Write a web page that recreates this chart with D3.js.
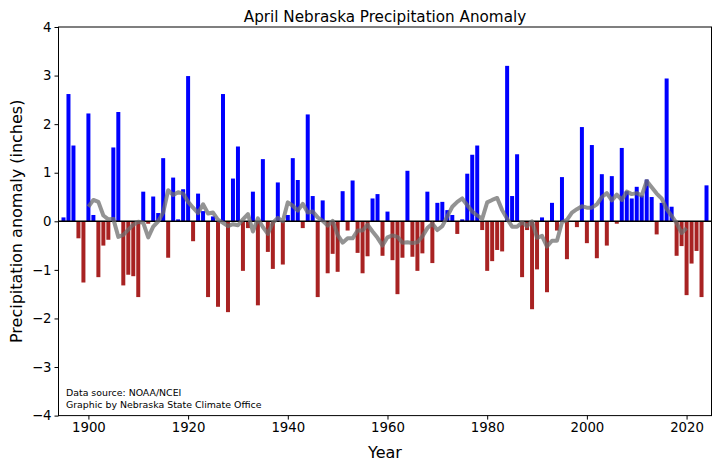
<!DOCTYPE html>
<html>
<head>
<meta charset="utf-8">
<script src="https://cdn.jsdelivr.net/npm/d3@7"></script>
<style>
  html, body { margin: 0; padding: 0; background: #fff; }
  svg { display: block; font-family: "DejaVu Sans", sans-serif; }
</style>
</head>
<body>
<svg id="chart" width="720" height="469"></svg>
<script>
// ---- data ----
const firstYear = 1895;
const anomalies = [
  0.08, 2.62, 1.56, -0.35, -1.26,            // 1895-1899
  2.22, 0.13, -1.15, -0.50, -0.38, 1.52, 2.25, -1.32, -1.10, -1.13, // 1900-1909
  -1.56, 0.61, -0.05, 0.51, 0.17, 1.30, -0.75, 0.90, 0.04, 0.66,   // 1910-1919
  2.99, -0.41, 0.57, 0.21, -1.56, 0.10, -1.76, 2.62, -1.87, 0.88,  // 1920-1929
  1.54, -1.02, -0.14, 0.61, -1.73, 1.28, -0.63, -0.98, 0.80, -0.89, // 1930-1939
  0.13, 1.30, 0.85, -0.14, 2.20, 0.52, -1.56, 0.43, -1.07, -0.67,  // 1940-1949
  -1.04, 0.62, -0.19, 0.84, -0.65, -1.07, -0.72, 0.47, 0.56, -0.71, // 1950-1959
  0.20, -0.80, -1.50, -0.75, 1.04, -0.73, -1.02, -0.66, 0.61, -0.86, // 1960-1969
  0.38, 0.40, 0.23, 0.13, -0.26, 0.04, 0.98, 1.37, 1.56, -0.18,    // 1970-1979
  -1.02, -0.82, -0.59, -0.62, 3.20, 0.52, 1.38, -1.15, -0.18, -1.81, // 1980-1989
  -0.99, 0.08, -1.46, 0.38, -0.19, 0.91, -0.78, 0.00, -0.12, 1.94, // 1990-1999
  -0.45, 1.57, -0.76, 0.97, -0.50, 0.93, -0.05, 1.51, 0.62, 0.47,  // 2000-2009
  0.71, 0.53, 0.86, 0.50, -0.27, 0.38, 2.94, 0.30, -0.71, -0.51,   // 2010-2019
  -1.52, -0.87, -0.61, -1.56, 0.74                                 // 2020-2024
];
const years = anomalies.map((_, i) => firstYear + i);

// gray smoothed line (10-year running mean as drawn), 1900-2020
const smoothStart = 1900;
const smoothed = [
  0.30, 0.44, 0.40, 0.12, 0.04, 0.05, -0.32, -0.28, -0.17, -0.07,  // 1900-1909
  -0.01, -0.03, -0.33, -0.11, 0.00, 0.18, 0.64, 0.54, 0.60, 0.57,  // 1910-1919
  0.40, 0.28, 0.17, 0.35, 0.16, 0.18, 0.03, -0.03, -0.10, -0.06,   // 1920-1929
  -0.08, 0.04, 0.15, -0.21, 0.06, -0.12, -0.26, -0.03, 0.07, 0.00, // 1930-1939
  0.39, 0.32, 0.22, 0.36, 0.18, 0.20, 0.08, 0.01, -0.09, 0.01,     // 1940-1949
  -0.28, -0.44, -0.35, -0.35, -0.19, -0.19, -0.07, -0.21, -0.34, -0.50, // 1950-1959
  -0.33, -0.29, -0.32, -0.44, -0.43, -0.45, -0.43, -0.31, -0.14, -0.05, // 1960-1969
  -0.18, -0.10, 0.10, 0.30, 0.40, 0.47, 0.33, 0.20, 0.12, 0.05,    // 1970-1979
  0.39, 0.44, 0.48, 0.23, 0.05, -0.11, -0.11, -0.02, -0.10, 0.00,  // 1980-1989
  -0.34, -0.30, -0.52, -0.40, -0.40, -0.02, 0.03, 0.18, 0.25, 0.31, // 1990-1999
  0.28, 0.28, 0.35, 0.50, 0.58, 0.43, 0.55, 0.44, 0.61, 0.56,      // 2000-2009
  0.58, 0.53, 0.83, 0.70, 0.57, 0.47, 0.25, 0.11, -0.04, -0.24,    // 2010-2019
  -0.14                                                            // 2020
];
const smoothYears = smoothed.map((_, i) => smoothStart + i);

const yTicks = [-4, -3, -2, -1, 0, 1, 2, 3, 4];
const xTicks = [1900, 1920, 1940, 1960, 1980, 2000, 2020];
const titleText = "April Nebraska Precipitation Anomaly";
const xLabel = "Year";
const yLabel = "Precipitation anomaly (inches)";
const notes = ["Data source: NOAA/NCEI", "Graphic by Nebraska State Climate Office"];

// ---- drawing ----
const svg = d3.select("#chart");
const L = 58.5, R = 711.5, T = 27.0, B = 415.6;

const x = d3.scaleLinear().domain([1894, 2025]).range([L, R]);
const y = d3.scaleLinear().domain([-4, 4]).range([B, T]);

const fmt = d => (d < 0 ? "\u2212" + Math.abs(d) : String(d));

const plot = svg.append("g");

// bars
const barW = x(0.8) - x(0);
plot.selectAll("rect.bar")
  .data(years.map((yr, i) => ({ yr, v: anomalies[i] })))
  .join("rect")
  .attr("class", "bar")
  .attr("x", d => x(d.yr) - barW / 2)
  .attr("width", barW)
  .attr("y", d => y(Math.max(0, d.v)))
  .attr("height", d => Math.abs(y(d.v) - y(0)))
  .attr("fill", d => d.v >= 0 ? "#0000ff" : "#a82222");

// zero line
plot.append("line")
  .attr("x1", L).attr("x2", R)
  .attr("y1", y(0)).attr("y2", y(0))
  .attr("stroke", "#000").attr("stroke-width", 1.5);

// smoothed line
const line = d3.line()
  .x(d => x(d.yr))
  .y(d => y(d.v));
plot.append("path")
  .datum(smoothYears.map((yr, i) => ({ yr, v: smoothed[i] })))
  .attr("d", line)
  .attr("fill", "none")
  .attr("stroke", "#6f6f6f")
  .attr("stroke-opacity", 0.75)
  .attr("stroke-width", 4)
  .attr("stroke-linejoin", "round");

// axes
const xAxis = d3.axisBottom(x).tickValues(xTicks).tickFormat(d3.format("d")).tickSizeOuter(0).tickSize(4).tickPadding(3);
const yAxis = d3.axisLeft(y).tickValues(yTicks).tickFormat(fmt).tickSizeOuter(0).tickSize(4).tickPadding(3);

const gx = svg.append("g").attr("transform", `translate(0,${B})`).call(xAxis);
const gy = svg.append("g").attr("transform", `translate(${L},0)`).call(yAxis);
[gx, gy].forEach(g => {
  g.select(".domain").remove();
  g.selectAll("text").attr("font-size", 13.3).attr("font-family", "DejaVu Sans").attr("fill", "#000");
  g.selectAll("line").attr("stroke", "#000").attr("stroke-width", 1);
});

// frame
svg.append("rect")
  .attr("x", L).attr("y", T)
  .attr("width", R - L).attr("height", B - T)
  .attr("fill", "none").attr("stroke", "#000").attr("stroke-width", 1);

// title & labels
svg.append("text")
  .attr("x", (L + R) / 2).attr("y", 21.5)
  .attr("text-anchor", "middle")
  .attr("font-size", 15.2)
  .text(titleText);

svg.append("text")
  .attr("x", (L + R) / 2).attr("y", 458)
  .attr("text-anchor", "middle")
  .attr("font-size", 16)
  .text(xLabel);

svg.append("text")
  .attr("transform", `translate(22,${(T + B) / 2}) rotate(-90)`)
  .attr("text-anchor", "middle")
  .attr("font-size", 16)
  .text(yLabel);

svg.selectAll("text.note")
  .data(notes)
  .join("text")
  .attr("class", "note")
  .attr("x", 66)
  .attr("y", (d, i) => 396 + i * 11.5)
  .attr("font-size", 9.4)
  .text(d => d);
</script>
</body>
</html>
